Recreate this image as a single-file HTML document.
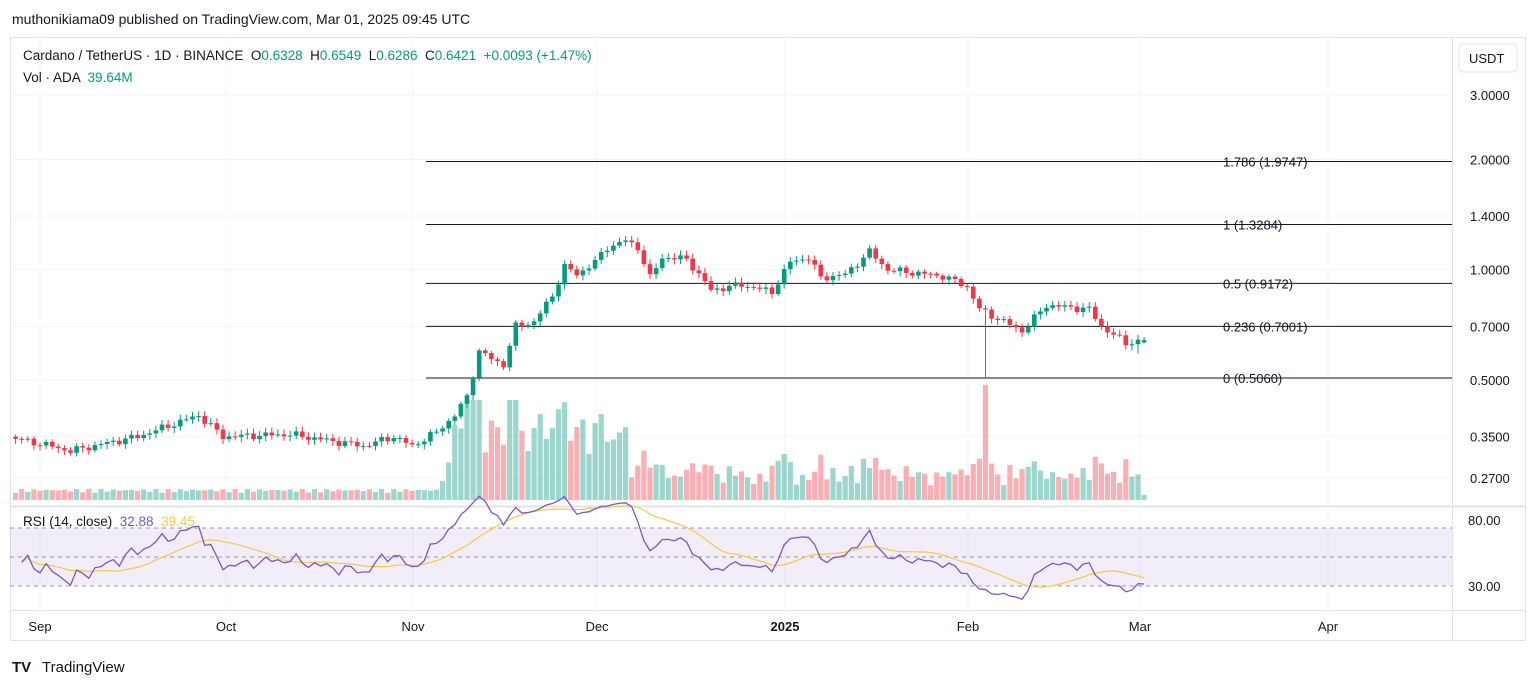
<!DOCTYPE html>
<html><head><meta charset="utf-8"><style>
body{margin:0;background:#fff;width:1536px;height:689px;overflow:hidden;font-family:"Liberation Sans",sans-serif;}
svg{position:absolute;left:0;top:0}
</style></head><body>
<svg id="s" width="1536" height="689" xmlns="http://www.w3.org/2000/svg" font-family="Liberation Sans, sans-serif"></svg>
<script>
const S=document.getElementById('s');let h='';
const G='#089981',R='#f23645',GV='rgba(8,153,129,0.4)',RV='rgba(242,54,69,0.4)';
h+='<rect x="10.5" y="37.5" width="1515" height="603" fill="none" stroke="#e0e3eb"/>';
h+='<line x1="1452.5" y1="37" x2="1452.5" y2="640" stroke="#e0e3eb"/>';
h+='<line x1="10" y1="506.5" x2="1526" y2="506.5" stroke="#e0e3eb" stroke-width="2"/>';
h+='<line x1="10" y1="610.5" x2="1526" y2="610.5" stroke="#e0e3eb"/>';
[40,226,413,597,785,968,1140,1328].forEach(x=>h+=`<line x1="${x}" y1="38" x2="${x}" y2="610" stroke="#f3f4f6"/>`);
const py=p=>378-159*Math.log(p/0.506);
[[3,'3.0000'],[2,'2.0000'],[1.4,'1.4000'],[1,'1.0000'],[0.7,'0.7000'],[0.5,'0.5000'],[0.35,'0.3500'],[0.27,'0.2700']].forEach(([p,t])=>{const y=py(p);h+=`<line x1="10" y1="${y}" x2="1452" y2="${y}" stroke="#f3f4f6"/><text x="1470" y="${y+5}" font-size="13" fill="#131722">${t}</text>`;});
h+='<rect x="1459" y="44" width="58" height="28" rx="4" fill="#fff" stroke="#e0e3eb"/><text x="1469" y="63" font-size="13" fill="#131722">USDT</text>';
[[1.9747,'1.786 (1.9747)'],[1.3284,'1 (1.3284)'],[0.9172,'0.5 (0.9172)'],[0.7001,'0.236 (0.7001)'],[0.506,'0 (0.5060)']].forEach(([p,t])=>{const y=py(p);h+=`<line x1="426" y1="${y}" x2="1452" y2="${y}" stroke="#131722" stroke-width="1"/><text x="1223" y="${y+5}" font-size="13" fill="#131722">${t}</text>`;});
const K=[[0,0.345],[4,0.335],[9,0.32],[20,0.35],[30,0.40],[34,0.35],[45,0.355],[57,0.33],[62,0.35],[65,0.33],[69,0.36],[72,0.40],[74,0.45],[76,0.6],[78,0.57],[80,0.55],[82,0.70],[85,0.72],[88,0.85],[90,1.02],[92,0.97],[95,1.05],[97,1.15],[100,1.20],[102,1.15],[104,0.95],[106,1.08],[110,1.07],[114,0.88],[119,0.91],[124,0.87],[127,1.05],[130,1.08],[132,0.95],[136,0.97],[140,1.12],[143,1.0],[152,0.96],[156,0.90],[158,0.78],[160,0.75],[165,0.68],[169,0.8],[176,0.78],[178,0.70],[182,0.63],[185,0.642]];
function base(d){for(let i=0;i<K.length-1;i++){if(d>=K[i][0]&&d<=K[i+1][0]){const t=(d-K[i][0])/(K[i+1][0]-K[i][0]);return Math.exp(Math.log(K[i][1])*(1-t)+Math.log(K[i+1][1])*t);}}return 0.642;}
const C=[],O=[];let prev=0.35;
for(let d=0;d<=185;d++){let c=base(d)*(1+0.025*Math.sin(d*2.7)*Math.cos(d*1.3));if(d==185)c=0.6421;O.push(d==185?0.6328:prev);C.push(c);prev=c;}
for(let d=0;d<=185;d++){const o=O[d],c=C[d],x=15.6+d*6.1;const up=c>=o;const col=up?G:R;
 let hi=Math.max(o,c)*(1+0.012+0.02*Math.abs(Math.sin(d*3.1))),lo=Math.min(o,c)*(1-0.012-0.02*Math.abs(Math.cos(d*2.3)));
 if(d==159)lo=0.506; if(d==185){hi=0.6549;lo=0.6286;} if(d==184)lo=0.59;
 const yo=py(o),yc=py(c);h+=`<line x1="${x}" y1="${py(hi)}" x2="${x}" y2="${py(lo)}" stroke="${col}"/>`;
 h+=`<rect x="${x-2.3}" y="${Math.min(yo,yc)}" width="4.6" height="${Math.max(1,Math.abs(yo-yc))}" fill="${col}"/>`;
 let v=7+4*Math.abs(Math.sin(d*1.7));
 if(d>=70)v=12+300*Math.abs(Math.log(c/o))+12*Math.abs(Math.sin(d*1.3));
 if(d>=72&&d<=100)v+=20+30*Math.abs(Math.sin(d*0.9));
 if(d>=74&&d<=76)v+=30;v=Math.min(v,100);if(d==159)v=115;if(d==185)v=5;
 h+=`<rect x="${x-2.6}" y="${500-v}" width="5.2" height="${v}" fill="${up?GV:RV}"/>`;}
const ry=r=>528+(70-r)*1.45;
h+=`<rect x="10" y="${ry(70)}" width="1442" height="${ry(30)-ry(70)}" fill="rgba(126,87,194,0.1)"/>`;
[70,50,30].forEach(r=>h+=`<line x1="10" y1="${ry(r)}" x2="1452" y2="${ry(r)}" stroke="#787b86" stroke-dasharray="4,4" stroke-width="0.8"/>`);
h+=`<text x="1468" y="525" font-size="13" fill="#131722">80.00</text><text x="1468" y="591" font-size="13" fill="#131722">30.00</text>`;
let ag=0,al=0;const rs=[];
for(let d=1;d<=185;d++){const ch=C[d]-C[d-1];const g=Math.max(ch,0),l=Math.max(-ch,0);if(d<=14){ag+=g/14;al+=l/14;}else{ag=(ag*13+g)/14;al=(al*13+l)/14;}let r=al==0?100:100-100/(1+ag/al);if(d<14)r=50+(r-50)*d/14;rs.push([d,r]);}
let pts=rs.map(([d,r])=>`${15.6+d*6.1},${ry(r)}`).join(' ');
const ma=[];for(let i=0;i<rs.length;i++){let s=0,n=0;for(let j=Math.max(0,i-13);j<=i;j++){s+=rs[j][1];n++;}ma.push(`${15.6+rs[i][0]*6.1},${ry(s/n)}`);}
h+=`<polyline points="${ma.join(' ')}" fill="none" stroke="#f7c948" stroke-width="1.2"/>`;
h+=`<polyline points="${pts}" fill="none" stroke="#7e57c2" stroke-width="1.3"/>`;
h+='<text x="12" y="24" font-size="14" fill="#131722">muthonikiama09 published on TradingView.com, Mar 01, 2025 09:45 UTC</text>';
h+='<text x="23" y="60" font-size="13.5" fill="#131722" xml:space="preserve">Cardano / TetherUS · 1D · BINANCE  O<tspan fill="#089981">0.6328</tspan>  H<tspan fill="#089981">0.6549</tspan>  L<tspan fill="#089981">0.6286</tspan>  C<tspan fill="#089981">0.6421  +0.0093 (+1.47%)</tspan></text>';
h+='<text x="23" y="82" font-size="13.5" fill="#131722" xml:space="preserve">Vol · ADA  <tspan fill="#089981">39.64M</tspan></text>';
h+='<text x="23" y="526" font-size="13.5" fill="#131722" xml:space="preserve">RSI (14, close)  <tspan fill="#7e57c2">32.88</tspan>  <tspan fill="#f7c948">39.45</tspan></text>';
[[40,'Sep'],[226,'Oct'],[413,'Nov'],[597,'Dec'],[785,'2025'],[968,'Feb'],[1140,'Mar'],[1328,'Apr']].forEach(([x,t])=>h+=`<text x="${x}" y="631" font-size="13" text-anchor="middle" fill="#131722" ${t=='2025'?'font-weight="bold"':''}>${t}</text>`);
h+='<text x="12" y="672" font-size="15" font-weight="bold" fill="#131722">TV</text><text x="42" y="672" font-size="15" fill="#131722">TradingView</text>';
S.innerHTML=h;
</script></body></html>
